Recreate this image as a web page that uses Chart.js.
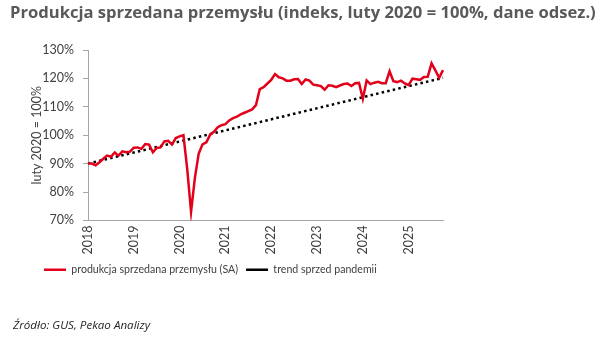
<!DOCTYPE html>
<html>
<head>
<meta charset="utf-8">
<script src="https://cdn.jsdelivr.net/npm/chart.js@4/dist/chart.umd.min.js"></script>
<style>
  body { margin: 0; background: #fff; }
  #wrap { position: relative; width: 605px; height: 342px; }
  #title { position: absolute; left: 10px; top: 0px; font: bold 16.6px "Open Sans", sans-serif; color: #595959; white-space: nowrap; }
  #source { position: absolute; left: 13px; top: 317px; font: italic 11.6px "Open Sans", sans-serif; color: #262626; }
  canvas { position: absolute; left: 0; top: 0; }
</style>
</head>
<body>
<div id="wrap">
  <canvas id="chart" width="605" height="342"></canvas>
  <div id="title">Produkcja sprzedana przemysłu (indeks, luty 2020 = 100%, dane odsez.)</div>
  <div id="source">Źródło: GUS, Pekao Analizy</div>
</div>
<script>
var years = [2018, 2019, 2020, 2021, 2022, 2023, 2024, 2025];
var monthCount = 94; // Jan 2018 - Oct 2025

// produkcja sprzedana przemysłu (SA), luty 2020 = 100
var production = [
  90.1, 90.0, 89.4, 90.5, 91.7, 92.8, 92.4, 93.9, 92.8, 94.3, 94.0, 94.2,
  95.6, 95.7, 95.2, 96.9, 96.7, 94.0, 95.5, 95.7, 97.8, 98.0, 96.7, 99.0,
  99.6, 100.0, 88.0, 73.0, 85.0, 93.5, 96.8, 97.5, 100.2, 101.2, 102.8, 103.5,
  103.9, 105.2, 106.0, 106.5, 107.3, 107.9, 108.5, 109.1, 110.6, 116.2, 116.9, 118.2,
  119.5, 121.5, 120.4, 120.0, 119.2, 119.2, 119.7, 119.8, 118.0, 119.6, 119.2, 117.8,
  117.6, 117.3, 116.0, 117.6, 117.4, 116.9, 117.5, 118.0, 118.2, 117.3, 118.3, 118.4,
  112.8, 119.3, 118.0, 118.5, 118.8, 118.3, 118.3, 122.5, 119.0, 118.7, 119.2, 118.2,
  117.6, 119.9, 119.7, 119.5, 120.5, 120.6, 125.3, 122.8, 120.2, 122.9
];

// trend sprzed pandemii: straight line, two end points
var trendStart = 90.0;
var trendEnd = 120.2;

var yTicks = [70, 80, 90, 100, 110, 120, 130];

var labels = [];
years.forEach(function (y) {
  for (var m = 1; m <= 12; m++) {
    if (labels.length < monthCount) labels.push(y + '-' + (m < 10 ? '0' : '') + m);
  }
});
var trend = labels.map(function () { return null; });
trend[0] = trendStart;
trend[monthCount - 1] = trendEnd;

var tickFont = { family: 'Lato, "Liberation Sans", sans-serif', size: 12.5 };

new Chart(document.getElementById('chart'), {
  type: 'line',
  data: {
    labels: labels,
    datasets: [{
      label: 'produkcja sprzedana przemysłu (SA)',
      data: production,
      borderColor: '#e2001a',
      backgroundColor: '#e2001a',
      borderWidth: 2.5,
      pointRadius: 0,
      tension: 0,
      pointStyle: 'line'
    }, {
      label: 'trend sprzed pandemii',
      data: trend,
      spanGaps: true,
      borderColor: '#000',
      backgroundColor: '#000',
      borderWidth: 2.5,
      borderDash: [2.5, 3.2],
      pointRadius: 0,
      pointStyle: 'line'
    }]
  },
  options: {
    responsive: false,
    animation: false,
    layout: { padding: { left: 36, right: 0, top: 50, bottom: 57 } },
    plugins: {
      tooltip: { enabled: false },
      legend: {
        position: 'bottom',
        align: 'start',
        labels: {
          usePointStyle: true,
          pointStyleWidth: 22,
          padding: 8,
          color: '#404040',
          font: { family: 'Lato, "Liberation Sans", sans-serif', size: 10.6 }
        }
      }
    },
    scales: {
      x: {
        type: 'category',
        offset: false,
        afterFit: function (s) { s.height = 36; },
        grid: { display: false, drawTicks: false },
        border: { display: true, color: '#a6a6a6', width: 1 },
        ticks: {
          autoSkip: false,
          maxRotation: 90,
          minRotation: 90,
          padding: 5,
          color: '#404040',
          font: tickFont,
          callback: function (v, i) { return i % 12 === 0 ? years[i / 12] : ''; }
        }
      },
      y: {
        min: yTicks[0],
        max: yTicks[yTicks.length - 1],
        afterFit: function (s) { s.width = 52; },
        afterBuildTicks: function (s) { s.ticks = yTicks.map(function (v) { return { value: v }; }); },
        grid: { display: true, drawOnChartArea: false, drawTicks: true, tickLength: 5, color: '#a6a6a6' },
        border: { display: true, color: '#a6a6a6', width: 1 },
        ticks: {
          padding: 9,
          color: '#404040',
          font: tickFont,
          callback: function (v) { return v + '%'; }
        },
        title: {
          display: true,
          text: 'luty 2020 = 100%',
          color: '#404040',
          font: tickFont,
          padding: { top: -7, bottom: 0 }
        }
      },
      spacer: {
        type: 'linear',
        position: 'right',
        display: true,
        afterFit: function (s) { s.width = 162; },
        grid: { display: false },
        border: { display: false },
        ticks: { display: false }
      }
    }
  }
});
</script>
</body>
</html>
